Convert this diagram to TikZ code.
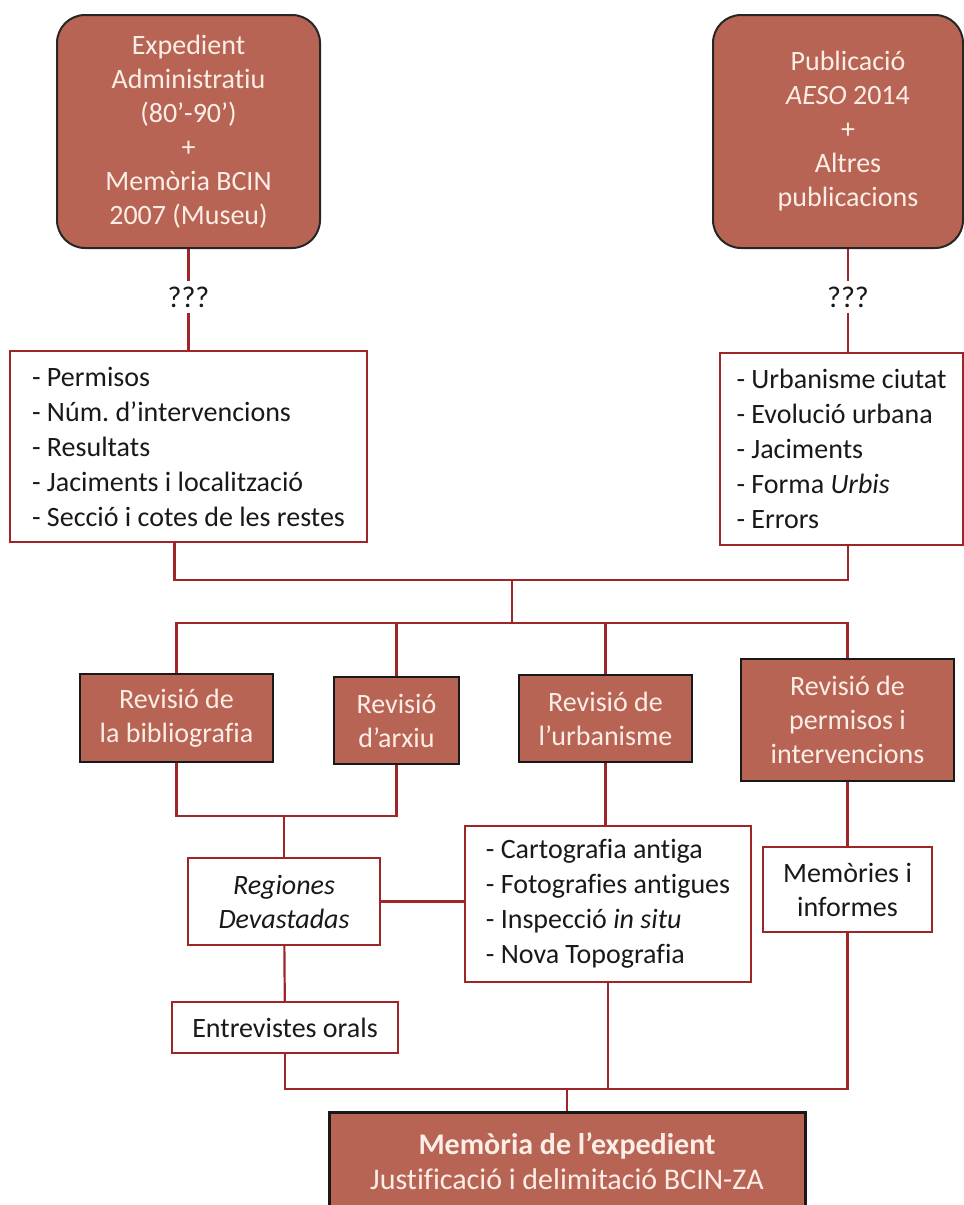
\documentclass[tikz,border=0pt]{standalone}
\usepackage{fontspec}
\setmainfont{Carlito}[Ligatures=NoCommon]
\definecolor{terra}{RGB}{184,100,84}
\definecolor{granat}{RGB}{158,38,40}
\definecolor{crema}{RGB}{252,238,230}
\frenchspacing

\begin{document}
\begin{tikzpicture}[x=1pt, y=-1pt,
        every node/.style={font=\fontsize{28}{34}\selectfont, align=center, inner sep=0pt, text=black!90},
        origen/.style={draw=black!85, line width=2pt, fill=terra, text=crema, rounded corners=28pt},
        revisio/.style={draw=black!90, line width=2.5pt, fill=terra, text=crema},
        llista/.style={draw=granat, line width=2pt, fill=white, align=left, font=\fontsize{28}{35}\selectfont},
        caixa/.style={draw=granat, line width=2pt, fill=white},
        pregunta/.style={inner sep=5pt, font=\fontsize{30}{34}\selectfont},
        enllac/.style={draw=granat, line width=2.2pt}]

    \useasboundingbox (0,0) rectangle (964,1205);

    \node[origen, minimum width=263, minimum height=233] (expedient) at (188.5,131.5)
        {Expedient\\Administratiu\\(80’-90’)\\+\\Memòria BCIN\\2007 (Museu)};
    \node[origen, minimum width=250, minimum height=233] (publicacio) at (838,131.5)
        {\hspace*{20pt}Publicació\\\hspace*{20pt}\textit{AESO} 2014\\\hspace*{20pt}+\\\hspace*{20pt}Altres\\\hspace*{20pt}publicacions};
    \node[pregunta] (dubteA) at (188.5,297) {???};
    \node[pregunta] (dubteB) at (848,297) {???};

    \node[llista, minimum width=357, minimum height=191] (dadesA) at (188.5,446.5)
        {- Permisos\\- Núm. d’intervencions\\- Resultats\\- Jaciments i localització\\- Secció i cotes de les restes};
    \node[llista, minimum width=243, minimum height=192] (dadesB) at (841.5,449)
        {- Urbanisme ciutat\\- Evolució urbana\\- Jaciments\\- Forma \textit{Urbis}\\- Errors};

    \coordinate (uneix) at (512,580);
    \coordinate (reparteix) at (512,623);
    \coordinate (revisat) at (284,816);
    \coordinate (recull) at (567,1089);

    \node[revisio, minimum width=193, minimum height=88] (bib) at (176.5,718) {Revisió de\\la bibliografia};
    \node[revisio, minimum width=125, minimum height=87] (arxiu) at (396.5,720.5) {Revisió\\d’arxiu};
    \node[revisio, minimum width=173, minimum height=87] (urb) at (605.5,718.5) {Revisió de\\l’urbanisme};
    \node[revisio, minimum width=213, minimum height=122] (perm) at (847.5,720) {Revisió de\\permisos i\\intervencions};

    \node[caixa, minimum width=192, minimum height=87] (regiones) at (284,901.5) {\textit{Regiones}\\\textit{Devastadas}};
    \node[llista, minimum width=286, minimum height=156] (carto) at (608,904)
        {- Cartografia antiga\\- Fotografies antigues\\- Inspecció \textit{in situ}\\- Nova Topografia};
    \node[caixa, minimum width=169, minimum height=85] (memories) at (847.5,889.5) {Memòries i\\informes};
    \node[caixa, minimum width=226, minimum height=51] (entrevistes) at (285,1027.5) {Entrevistes orals};

    \node[revisio, line width=3pt, minimum width=476, minimum height=98, font=\fontsize{30}{35}\selectfont] (final) at (567,1161)
        {\textbf{Memòria de l’expedient}\\Justificació i delimitació BCIN-ZA};

    \draw[enllac] (expedient) -- (dubteA) -- (dadesA);
    \draw[enllac] (publicacio.south -| dubteB) -- (dubteB) -- (dubteB |- dadesB.north);
    \draw[enllac] ([xshift=-14]dadesA.south) |- (uneix) -| (dubteB |- dadesB.south);
    \draw[enllac] (uneix) -- (reparteix);
    \draw[enllac] (bib.north) |- (reparteix) -| (perm.north);
    \draw[enllac] (arxiu.north) -- (arxiu.north |- reparteix);
    \draw[enllac] (urb.north) -- (urb.north |- reparteix);
    \draw[enllac] (bib.south) |- (revisat) -| (arxiu.south);
    \draw[enllac] (revisat) -- (regiones.north);
    \draw[enllac] (urb.south) -- (urb.south |- carto.north);
    \draw[enllac] (regiones.east) -- (regiones.east -| carto.west);
    \draw[enllac] (perm.south) -- (memories.north);
    \draw[enllac] (regiones) -- (entrevistes);
    \draw[enllac] (entrevistes.south) |- (recull) -| (memories.south);
    \draw[enllac] (carto.south) -- (carto.south |- recull);
    \draw[enllac] (recull) -- (final.north);
\end{tikzpicture}
\end{document}
